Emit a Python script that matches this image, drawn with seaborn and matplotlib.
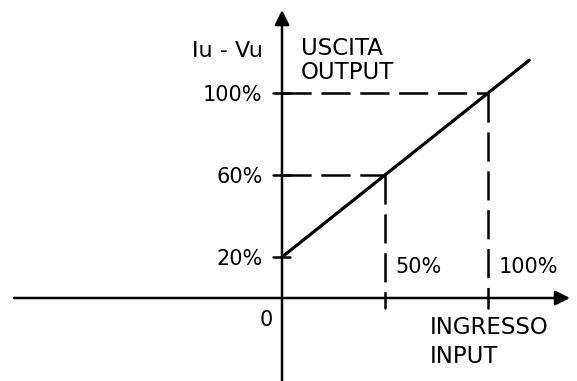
import matplotlib
matplotlib.use('Agg')
import matplotlib.pyplot as plt
import seaborn as sns
import pandas as pd

# transfer characteristic: output (%) against input (%)
input_pct = [0, 50, 100, 120]
output_pct = [20, 60, 100, 116]
# points marked with guide lines
mark_in = [50, 100]
mark_out = [60, 100]
y_tick_vals = [20, 60, 100]
y_tick_labels = ['20%', '60%', '100%']
x_tick_labels = ['50%', '100%']

sns.set_style('white')
plt.rcParams['font.family'] = ['DejaVu Sans']
plt.rcParams['text.color'] = 'black'
plt.rcParams['lines.scale_dashes'] = False

fig = plt.figure(figsize=(5.77, 3.81), dpi=100)
ax = fig.add_axes([0, 0, 1, 1])
ax.set_xlim(-136.9, 143.2)
ax.set_ylim(-40.5, 145.4)
ax.axis('off')

df = pd.DataFrame({'inp': input_pct, 'out': output_pct})
sns.lineplot(data=df, x='inp', y='out', color='black', lw=2.3, ax=ax)

# axes with arrows
ax.annotate('', xy=(139.8, 0), xytext=(-130, 0),
            arrowprops=dict(arrowstyle='-|>', color='black', lw=1.8,
                            mutation_scale=22, shrinkA=0, shrinkB=0))
ax.annotate('', xy=(0, 140.5), xytext=(0, -40.5),
            arrowprops=dict(arrowstyle='-|>', color='black', lw=1.8,
                            mutation_scale=22, shrinkA=0, shrinkB=0))

dash = (0, (21, 7))
for xi, yi in zip(mark_in, mark_out):
    ax.plot([0, xi], [yi, yi], color='black', lw=1.8, ls=dash)
    ax.plot([xi, xi], [yi, 0], color='black', lw=1.8, ls=dash)
    ax.plot([xi, xi], [0, -4.9], color='black', lw=1.8)
for yv in y_tick_vals:
    ax.plot([-4.4, 4], [yv, yv], color='black', lw=1.8)

fs = 15
for yv, lab in zip(y_tick_vals, y_tick_labels):
    ax.text(-9.5, yv - 1, lab, ha='right', va='center', fontsize=fs)
for xi, lab in zip(mark_in, x_tick_labels):
    ax.text(xi + 5, 15, lab, ha='left', va='center', fontsize=fs)
ax.text(-4.4, -10.5, '0', ha='right', va='center', fontsize=fs)

ax.text(-9.5, 120.5, 'Iu - Vu', ha='right', va='center', fontsize=16)
ax.text(9, 121.5, 'USCITA', ha='left', va='center', fontsize=16.5)
ax.text(9, 110, 'OUTPUT', ha='left', va='center', fontsize=16.5)
ax.text(71.5, -14.5, 'INGRESSO', ha='left', va='center', fontsize=16.5)
ax.text(71.5, -28.5, 'INPUT', ha='left', va='center', fontsize=16.5)

fig.savefig('out.png', dpi=100)
